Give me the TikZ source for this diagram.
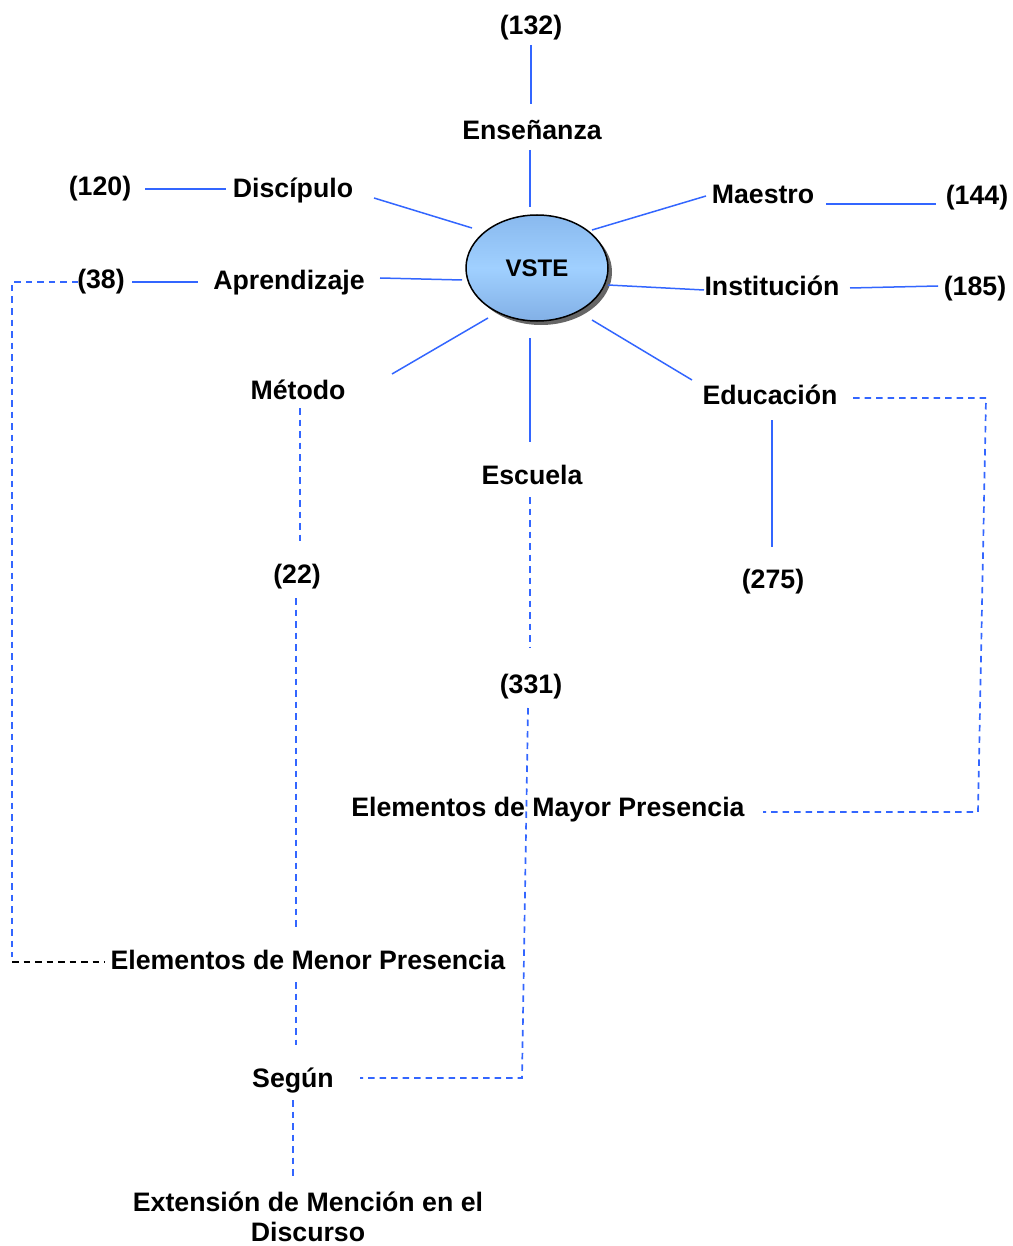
\documentclass[tikz,border=0pt]{standalone}
\usepackage{fontspec}
\setmainfont{Liberation Sans}
\usetikzlibrary{shapes.geometric}
\definecolor{linkblue}{RGB}{51,102,255}
\definecolor{ovaltop}{RGB}{137,185,238}
\definecolor{ovalmid}{RGB}{160,208,255}
\definecolor{ovalbot}{RGB}{130,176,230}
\begin{document}
\begin{tikzpicture}[x=1pt,y=-1pt,
  lbl/.style={font=\fontsize{26.7}{30}\selectfont\bfseries, inner sep=0pt, align=center,
    text height=22pt, text depth=3pt},
  link/.style={draw=linkblue, line width=1.5pt},
  dlink/.style={draw=linkblue, line width=1.7pt, dash pattern=on 6.5pt off 5pt},
  blink/.style={draw=black, line width=1.4pt, dash pattern=on 6.5pt off 5pt}]
\useasboundingbox (0,0) rectangle (1012,1246);

% central oval with its drop shadow
\fill[black!60] (541,272) ellipse [x radius=71, y radius=53];
\shade[top color=ovaltop, bottom color=ovalbot, middle color=ovalmid, draw=black, line width=1.5pt]
  (537,268) ellipse [x radius=71, y radius=53];
\node[ellipse, minimum width=142pt, minimum height=106pt, inner sep=0pt,
  font=\fontsize{24}{28}\selectfont\bfseries] (vste) at (537,268) {VSTE};

% terms and counts
\node[lbl] (n132)  at (531,25)  {(132)};
\node[lbl] (ens)   at (532,130) {Enseñanza};
\node[lbl] (n120)  at (100,186) {(120)};
\node[lbl] (disc)  at (293,188) {Discípulo};
\node[lbl] (mae)   at (763,194) {Maestro};
\node[lbl] (n144)  at (977,195) {(144)};
\node[lbl] (apr)   at (289,280) {Aprendizaje};
\node[lbl] (n38)   at (101,279) {(38)};
\node[lbl] (inst)  at (772,286) {Institución};
\node[lbl] (n185)  at (975,286) {(185)};
\node[lbl] (met)   at (298,390) {Método};
\node[lbl] (edu)   at (770,395) {Educación};
\node[lbl] (esc)   at (532,475) {Escuela};
\node[lbl] (n22)   at (297,574) {(22)};
\node[lbl] (n275)  at (773,579) {(275)};
\node[lbl] (n331)  at (531,684) {(331)};
\node[lbl] (mayor) at (548,807) {Elementos de Mayor Presencia};
\node[lbl] (menor) at (308,960) {Elementos de Menor Presencia};
\node[lbl] (segun) at (293,1078) {Según};
\node[lbl] (ext)   at (308,1232) {Extensión de Mención en el\\Discurso};

% solid connectors
\draw[link] ([shift={(0,20)}]n132.center) -- ([shift={(-1,-26)}]ens.center);
\draw[link] ([shift={(-2,20)}]ens.center) -- ([shift={(-7,-61)}]vste.center);
\draw[link] ([shift={(45,3)}]n120.center) -- ([shift={(-67,1)}]disc.center);
\draw[link] ([shift={(81,10)}]disc.center) -- ([shift={(-65,-40)}]vste.center);
\draw[link] ([shift={(-57,2)}]mae.center) -- ([shift={(55,-38)}]vste.center);
\draw[link] ([shift={(63,10)}]mae.center) -- ([shift={(-41,9)}]n144.center);
\draw[link] ([shift={(31,3)}]n38.center) -- ([shift={(-91,2)}]apr.center);
\draw[link] ([shift={(91,-2)}]apr.center) -- ([shift={(-75,12)}]vste.center);
\draw[link] ([shift={(71,17)}]vste.center) -- ([shift={(-68,4)}]inst.center);
\draw[link] ([shift={(78,2)}]inst.center) -- ([shift={(-37,0)}]n185.center);
\draw[link] ([shift={(94,-16)}]met.center) -- ([shift={(-49,50)}]vste.center);
\draw[link] ([shift={(-7,70)}]vste.center) -- ([shift={(-2,-33)}]esc.center);
\draw[link] ([shift={(-78,-15)}]edu.center) -- ([shift={(55,52)}]vste.center);
\draw[link] ([shift={(2,25)}]edu.center) -- ([shift={(-1,-32)}]n275.center);

% dashed connectors
\draw[dlink] ([shift={(2,18)}]met.center) -- ([shift={(3,-29)}]n22.center);
\draw[dlink] ([shift={(-1,24)}]n22.center) -- ([shift={(-12,-32)}]menor.center);
\draw[dlink] ([shift={(-12,22)}]menor.center) -- ([shift={(3,-33)}]segun.center);
\draw[dlink] ([shift={(0,22)}]segun.center) -- ([shift={(-15,-54)}]ext.center);
\draw[dlink] ([shift={(-2,22)}]esc.center) -- ([shift={(-1,-36)}]n331.center);
\draw[dlink] ([shift={(-3,24)}]n331.center) -- ([shift={(229,0)}]segun.center)
  -- ([shift={(67,0)}]segun.center);
\draw[dlink] ([shift={(83,3)}]edu.center) -- ([shift={(216,3)}]edu.center)
  -- ([shift={(430,5)}]mayor.center) -- ([shift={(215,5)}]mayor.center);
\draw[dlink] ([shift={(-23,3)}]n38.center) -- ([shift={(-89,3)}]n38.center)
  -- ([shift={(-296,-3)}]menor.center);
\draw[blink] ([shift={(-296,2)}]menor.center) -- ([shift={(-203,2)}]menor.center);
\end{tikzpicture}
\end{document}
